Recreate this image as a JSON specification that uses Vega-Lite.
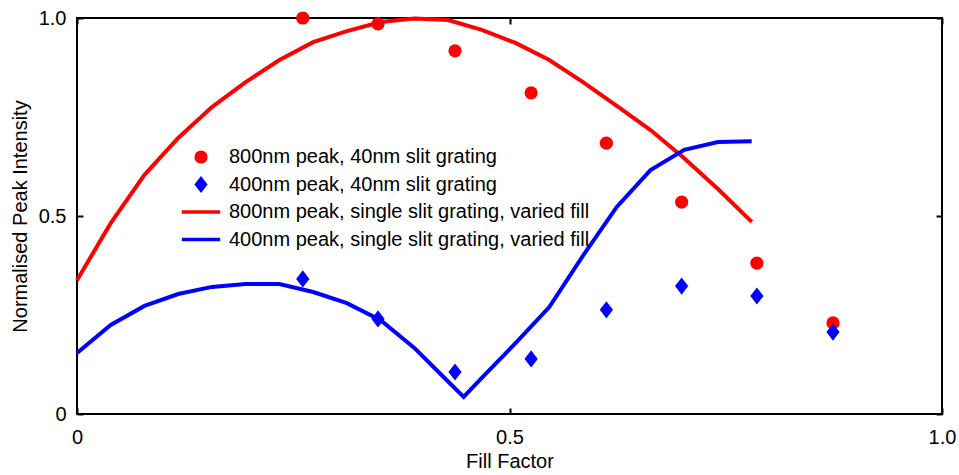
{
  "$schema": "https://vega.github.io/schema/vega-lite/v6.json",
  "width": 865,
  "height": 396,
  "autosize": "none",
  "padding": {"left": 77, "top": 18, "right": 17, "bottom": 61},
  "background": "white",
  "config": {
    "font": "Liberation Sans",
    "view": {"stroke": "black", "strokeWidth": 2},
    "axis": {
      "domain": false,
      "grid": false,
      "tickColor": "black",
      "tickWidth": 2,
      "tickSize": 6,
      "offset": -6,
      "labelFont": "Liberation Sans",
      "labelFontSize": 20,
      "labelColor": "black",
      "titleFont": "Liberation Sans",
      "titleFontSize": 20,
      "titleFontWeight": "normal",
      "titleColor": "black"
    },
    "legend": {
      "labelFont": "Liberation Sans",
      "labelFontSize": 20,
      "labelColor": "black",
      "labelLimit": 0
    }
  },
  "datasets": {
    "lines": [
      {"series": "800nm peak, single slit grating, varied fill", "ff": 0, "intensity": 0.338},
      {"series": "800nm peak, single slit grating, varied fill", "ff": 0.039, "intensity": 0.482},
      {"series": "800nm peak, single slit grating, varied fill", "ff": 0.078, "intensity": 0.604},
      {"series": "800nm peak, single slit grating, varied fill", "ff": 0.117, "intensity": 0.697},
      {"series": "800nm peak, single slit grating, varied fill", "ff": 0.156, "intensity": 0.775},
      {"series": "800nm peak, single slit grating, varied fill", "ff": 0.195, "intensity": 0.838},
      {"series": "800nm peak, single slit grating, varied fill", "ff": 0.234, "intensity": 0.894},
      {"series": "800nm peak, single slit grating, varied fill", "ff": 0.273, "intensity": 0.939},
      {"series": "800nm peak, single slit grating, varied fill", "ff": 0.312, "intensity": 0.967},
      {"series": "800nm peak, single slit grating, varied fill", "ff": 0.351, "intensity": 0.99},
      {"series": "800nm peak, single slit grating, varied fill", "ff": 0.39, "intensity": 0.999},
      {"series": "800nm peak, single slit grating, varied fill", "ff": 0.429, "intensity": 0.995},
      {"series": "800nm peak, single slit grating, varied fill", "ff": 0.468, "intensity": 0.97},
      {"series": "800nm peak, single slit grating, varied fill", "ff": 0.507, "intensity": 0.937},
      {"series": "800nm peak, single slit grating, varied fill", "ff": 0.546, "intensity": 0.894},
      {"series": "800nm peak, single slit grating, varied fill", "ff": 0.585, "intensity": 0.838},
      {"series": "800nm peak, single slit grating, varied fill", "ff": 0.624, "intensity": 0.778},
      {"series": "800nm peak, single slit grating, varied fill", "ff": 0.663, "intensity": 0.717},
      {"series": "800nm peak, single slit grating, varied fill", "ff": 0.702, "intensity": 0.646},
      {"series": "800nm peak, single slit grating, varied fill", "ff": 0.741, "intensity": 0.568},
      {"series": "800nm peak, single slit grating, varied fill", "ff": 0.78, "intensity": 0.485},
      {"series": "400nm peak, single slit grating, varied fill", "ff": 0, "intensity": 0.154},
      {"series": "400nm peak, single slit grating, varied fill", "ff": 0.039, "intensity": 0.225},
      {"series": "400nm peak, single slit grating, varied fill", "ff": 0.078, "intensity": 0.273},
      {"series": "400nm peak, single slit grating, varied fill", "ff": 0.117, "intensity": 0.303},
      {"series": "400nm peak, single slit grating, varied fill", "ff": 0.156, "intensity": 0.321},
      {"series": "400nm peak, single slit grating, varied fill", "ff": 0.195, "intensity": 0.328},
      {"series": "400nm peak, single slit grating, varied fill", "ff": 0.234, "intensity": 0.328},
      {"series": "400nm peak, single slit grating, varied fill", "ff": 0.273, "intensity": 0.308},
      {"series": "400nm peak, single slit grating, varied fill", "ff": 0.312, "intensity": 0.28},
      {"series": "400nm peak, single slit grating, varied fill", "ff": 0.351, "intensity": 0.237},
      {"series": "400nm peak, single slit grating, varied fill", "ff": 0.39, "intensity": 0.167},
      {"series": "400nm peak, single slit grating, varied fill", "ff": 0.429, "intensity": 0.082},
      {"series": "400nm peak, single slit grating, varied fill", "ff": 0.447, "intensity": 0.043},
      {"series": "400nm peak, single slit grating, varied fill", "ff": 0.468, "intensity": 0.091},
      {"series": "400nm peak, single slit grating, varied fill", "ff": 0.507, "intensity": 0.179},
      {"series": "400nm peak, single slit grating, varied fill", "ff": 0.546, "intensity": 0.27},
      {"series": "400nm peak, single slit grating, varied fill", "ff": 0.585, "intensity": 0.4},
      {"series": "400nm peak, single slit grating, varied fill", "ff": 0.624, "intensity": 0.523},
      {"series": "400nm peak, single slit grating, varied fill", "ff": 0.663, "intensity": 0.616},
      {"series": "400nm peak, single slit grating, varied fill", "ff": 0.702, "intensity": 0.667},
      {"series": "400nm peak, single slit grating, varied fill", "ff": 0.741, "intensity": 0.687},
      {"series": "400nm peak, single slit grating, varied fill", "ff": 0.78, "intensity": 0.689}
    ],
    "points": [
      {"series": "800nm peak, 40nm slit grating", "ff": 0.261, "intensity": 1.0},
      {"series": "800nm peak, 40nm slit grating", "ff": 0.348, "intensity": 0.985},
      {"series": "800nm peak, 40nm slit grating", "ff": 0.437, "intensity": 0.917},
      {"series": "800nm peak, 40nm slit grating", "ff": 0.525, "intensity": 0.811},
      {"series": "800nm peak, 40nm slit grating", "ff": 0.612, "intensity": 0.684},
      {"series": "800nm peak, 40nm slit grating", "ff": 0.699, "intensity": 0.535},
      {"series": "800nm peak, 40nm slit grating", "ff": 0.786, "intensity": 0.381},
      {"series": "800nm peak, 40nm slit grating", "ff": 0.874, "intensity": 0.23},
      {"series": "400nm peak, 40nm slit grating", "ff": 0.261, "intensity": 0.341},
      {"series": "400nm peak, 40nm slit grating", "ff": 0.348, "intensity": 0.24},
      {"series": "400nm peak, 40nm slit grating", "ff": 0.437, "intensity": 0.106},
      {"series": "400nm peak, 40nm slit grating", "ff": 0.525, "intensity": 0.139},
      {"series": "400nm peak, 40nm slit grating", "ff": 0.612, "intensity": 0.263},
      {"series": "400nm peak, 40nm slit grating", "ff": 0.699, "intensity": 0.323},
      {"series": "400nm peak, 40nm slit grating", "ff": 0.786, "intensity": 0.298},
      {"series": "400nm peak, 40nm slit grating", "ff": 0.874, "intensity": 0.207}
    ]
  },
  "resolve": {"axis": {"x": "independent", "y": "independent"}},
  "layer": [
    {
      "data": {"name": "lines"},
      "mark": {"type": "line", "strokeWidth": 4, "clip": false},
      "encoding": {
        "x": {
          "field": "ff", "type": "quantitative",
          "scale": {"domain": [0, 1], "nice": false, "zero": false},
          "axis": {"orient": "bottom", "title": "Fill Factor", "values": [0, 0.5, 1], "labelExpr": "datum.value == 0 ? '0' : format(datum.value, '.1f')", "labelPadding": 13, "titlePadding": 4, "labelFlush": false}
        },
        "y": {
          "field": "intensity", "type": "quantitative",
          "scale": {"domain": [0, 1], "nice": false, "zero": false},
          "axis": {"orient": "left", "title": "Normalised Peak Intensity", "values": [0, 0.5, 1], "labelExpr": "datum.value == 0 ? '0' : format(datum.value, '.1f')", "labelPadding": 11, "titlePadding": 8, "labelFlush": false}
        },
        "color": {
          "field": "series", "type": "nominal",
          "scale": {
            "domain": ["800nm peak, 40nm slit grating", "400nm peak, 40nm slit grating", "800nm peak, single slit grating, varied fill", "400nm peak, single slit grating, varied fill"],
            "range": ["#ff0000", "#0000ff", "#ff0000", "#0000ff"]
          },
          "legend": {
            "title": null, "orient": "none", "legendX": 114, "legendY": 129,
            "padding": 0, "rowPadding": 7.5, "labelOffset": 18, "symbolSize": 175, "labelLimit": 0
          }
        }
      }
    },
    {
      "data": {"name": "points"},
      "mark": {"type": "point", "filled": true, "opacity": 1, "size": 175, "clip": false},
      "encoding": {
        "x": {
          "field": "ff", "type": "quantitative",
          "axis": {"orient": "top", "title": null, "values": [0, 0.5, 1], "labels": false}
        },
        "y": {
          "field": "intensity", "type": "quantitative",
          "axis": {"orient": "right", "title": null, "values": [0, 0.5, 1], "labels": false}
        },
        "color": {
          "field": "series", "type": "nominal",
          "legend": {
            "title": null, "orient": "none", "legendX": 114, "legendY": 129,
            "padding": 0, "rowPadding": 7.5, "labelOffset": 18, "symbolSize": 175, "labelLimit": 0
          }
        },
        "stroke": {
          "field": "series", "type": "nominal",
          "scale": {
            "domain": ["800nm peak, 40nm slit grating", "400nm peak, 40nm slit grating", "800nm peak, single slit grating, varied fill", "400nm peak, single slit grating, varied fill"],
            "range": ["#ff0000", "#0000ff", "#ff0000", "#0000ff"]
          },
          "legend": {"title": null}
        },
        "strokeWidth": {
          "field": "series", "type": "nominal",
          "scale": {
            "type": "ordinal",
            "domain": ["800nm peak, 40nm slit grating", "400nm peak, 40nm slit grating", "800nm peak, single slit grating, varied fill", "400nm peak, single slit grating, varied fill"],
            "range": [0, 0, 3.5, 3.5]
          },
          "legend": {"title": null}
        },
        "shape": {
          "field": "series", "type": "nominal",
          "scale": {
            "domain": ["800nm peak, 40nm slit grating", "400nm peak, 40nm slit grating", "800nm peak, single slit grating, varied fill", "400nm peak, single slit grating, varied fill"],
            "range": ["circle", "M0,-1.3L1.0,0L0,1.3L-1.0,0Z", "M-2.9,0L2.9,0", "M-2.9,0L2.9,0"]
          },
          "legend": {"title": null}
        }
      }
    }
  ]
}
